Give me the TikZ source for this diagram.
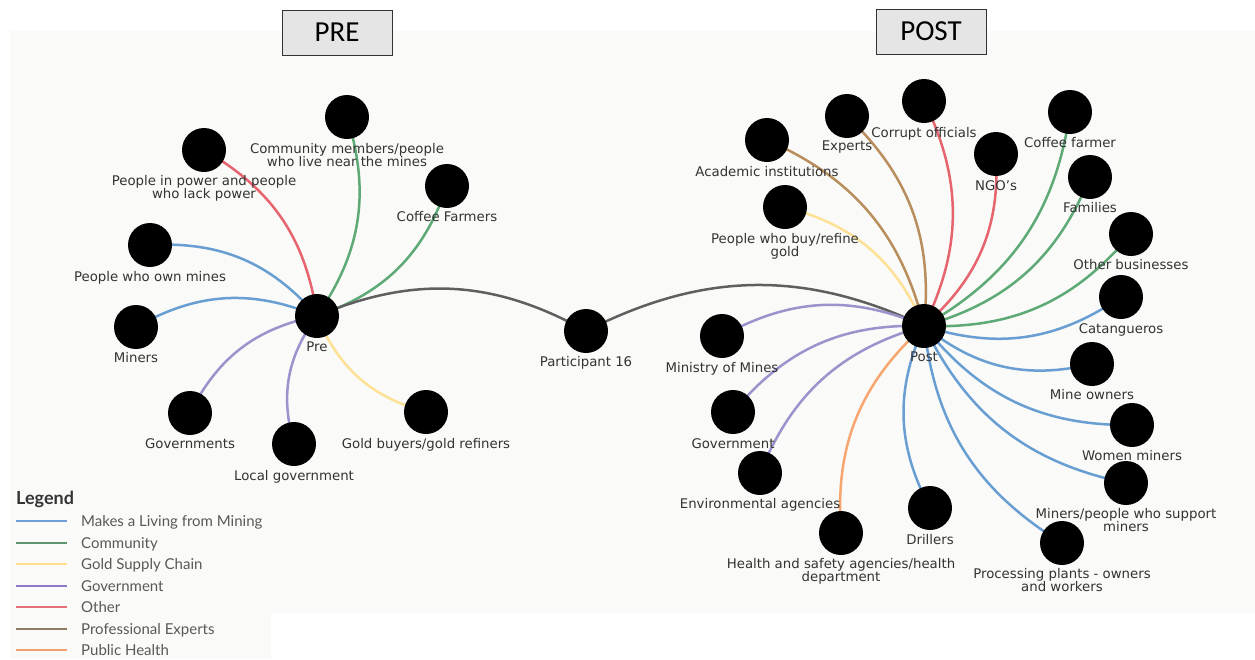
\documentclass[tikz,border=0pt]{standalone}
\usepackage{fontspec}
\setmainfont{DejaVu Sans}
\newfontfamily\titlefont{Carlito}
\newfontfamily\legfont{Lato}
\definecolor{panel}{HTML}{FAFAF8}
\definecolor{txt}{HTML}{333333}
\definecolor{cblue}{RGB}{104,158,210}
\definecolor{cgreen}{RGB}{94,170,118}
\definecolor{cyellow}{RGB}{253,226,150}
\definecolor{cpurple}{RGB}{158,146,204}
\definecolor{cred}{RGB}{230,100,110}
\definecolor{cbrown}{RGB}{184,142,92}
\definecolor{corange}{RGB}{246,166,110}
\definecolor{cgray}{RGB}{95,95,95}
\definecolor{lblue}{HTML}{6F9FD8}
\definecolor{lgreen}{HTML}{5E9470}
\definecolor{lyellow}{HTML}{FDDC8C}
\definecolor{lpurple}{HTML}{9278C8}
\definecolor{lred}{HTML}{E5707C}
\definecolor{lbrown}{HTML}{8E7B62}
\definecolor{lorange}{HTML}{F3A06F}
\pgfdeclarelayer{edgelayer}
\pgfsetlayers{edgelayer,main}
\tikzset{
  dot/.style={circle,fill=black,draw=none,inner sep=0pt,minimum size=44pt},
  lbl/.style={anchor=north,inner sep=0pt,text=txt,align=center,font=\fontsize{13.3}{13.3}\selectfont},
  link/.style={line width=2.5pt,bend right=26},
  titlebox/.style={draw=black!80,line width=1pt,fill=black!10,minimum width=110pt,minimum height=45pt,inner sep=0pt,font=\titlefont\fontsize{29}{30}\selectfont},
  legline/.style={line width=2pt},
  legtext/.style={anchor=base west,inner sep=0pt,text=black!65,font=\legfont\fontsize{15}{16}\selectfont}
}
\begin{document}
\begin{tikzpicture}[x=1pt,y=-1pt]
\useasboundingbox (0,0) rectangle (1255,659);
\begin{pgfonlayer}{edgelayer}
\fill[panel] (10,31) rectangle (1255,613);
\fill[panel] (10,613) rectangle (271,659);
\end{pgfonlayer}

% titles
\node[titlebox] (pretitle) at (337,32.5) {PRE};
\node[titlebox] (posttitle) at (931,31.5) {POST};

% PRE cluster
\node[dot] (pre) at (317,316) {};
\node[lbl] (prel) at (317,342) {Pre};
\node[dot] (pip) at (204,150) {};
\node[lbl] (pipl) at (204,175) {People in power and people\\who lack power};
\node[dot] (comm) at (347,117) {};
\node[lbl] (comml) at (347,143) {Community members/people\\who live near the mines};
\node[dot] (coffee) at (447,186) {};
\node[lbl] (coffeel) at (447,211) {Coffee Farmers};
\node[dot] (own) at (150,245) {};
\node[lbl] (ownl) at (150,271) {People who own mines};
\node[dot] (miners) at (136,327) {};
\node[lbl] (minersl) at (136,352) {Miners};
\node[dot] (govs) at (190,413) {};
\node[lbl] (govsl) at (190,438) {Governments};
\node[dot] (localgov) at (294,444) {};
\node[lbl] (localgovl) at (294,470) {Local government};
\node[dot] (goldb) at (426,412) {};
\node[lbl] (goldbl) at (426,438) {Gold buyers/gold refiners};

% middle
\node[dot] (p16) at (586,331) {};
\node[lbl] (p16l) at (586,356) {Participant 16};

% POST cluster
\node[dot] (post) at (924,326) {};
\node[lbl] (postl) at (924,352) {Post};
\node[dot] (acad) at (767,140) {};
\node[lbl] (acadl) at (767,166) {Academic institutions};
\node[dot] (experts) at (847,116) {};
\node[lbl] (expertsl) at (847,141) {Experts};
\node[dot] (corrupt) at (924,101) {};
\node[lbl] (corruptl) at (924,127) {Corrupt officials};
\node[dot] (ngo) at (996,154) {};
\node[lbl] (ngol) at (996,180) {NGO's};
\node[dot] (cofff) at (1070,112) {};
\node[lbl] (cofffl) at (1070,137) {Coffee farmer};
\node[dot] (fam) at (1090,177) {};
\node[lbl] (faml) at (1090,202) {Families};
\node[dot] (other) at (1131,234) {};
\node[lbl] (otherl) at (1131,259) {Other businesses};
\node[dot] (catang) at (1121,297) {};
\node[lbl] (catangl) at (1121,323) {Catangueros};
\node[dot] (mineown) at (1092,364) {};
\node[lbl] (mineownl) at (1092,389) {Mine owners};
\node[dot] (women) at (1132,425) {};
\node[lbl] (womenl) at (1132,450) {Women miners};
\node[dot] (mps) at (1126,483) {};
\node[lbl] (mpsl) at (1126,508) {Miners/people who support\\miners};
\node[dot] (proc) at (1062,543) {};
\node[lbl] (procl) at (1062,568) {Processing plants - owners\\and workers};
\node[dot] (drill) at (930,508) {};
\node[lbl] (drilll) at (930,534) {Drillers};
\node[dot] (health) at (841,533) {};
\node[lbl] (healthl) at (841,558) {Health and safety agencies/health\\department};
\node[dot] (env) at (760,473) {};
\node[lbl] (envl) at (760,498) {Environmental agencies};
\node[dot] (gov) at (733,412) {};
\node[lbl] (govl) at (733,438) {Government};
\node[dot] (mom) at (722,336) {};
\node[lbl] (moml) at (722,362) {Ministry of Mines};
\node[dot] (buy) at (785,207) {};
\node[lbl] (buyl) at (785,233) {People who buy/refine\\gold};

% edges
\begin{pgfonlayer}{edgelayer}
\draw[link,cred] (pre.center) to (pip.center);
\draw[link,cgreen] (pre.center) to (comm.center);
\draw[link,cgreen] (pre.center) to (coffee.center);
\draw[link,cblue] (pre.center) to (own.center);
\draw[link,cblue] (pre.center) to (miners.center);
\draw[link,cpurple] (pre.center) to (govs.center);
\draw[link,cpurple] (pre.center) to (localgov.center);
\draw[link,cyellow] (pre.center) to (goldb.center);
\draw[link,cgray] (p16.center) to (pre.center);
\draw[link,cgray] (post.center) to (p16.center);
\draw[link,cbrown] (post.center) to (acad.center);
\draw[link,cbrown] (post.center) to (experts.center);
\draw[link,cred] (post.center) to (corrupt.center);
\draw[link,cred] (post.center) to (ngo.center);
\draw[link,cgreen] (post.center) to (cofff.center);
\draw[link,cgreen] (post.center) to (fam.center);
\draw[link,cgreen] (post.center) to (other.center);
\draw[link,cblue] (post.center) to (catang.center);
\draw[link,cblue] (post.center) to (mineown.center);
\draw[link,cblue] (post.center) to (women.center);
\draw[link,cblue] (post.center) to (mps.center);
\draw[link,cblue] (post.center) to (proc.center);
\draw[link,cblue] (post.center) to (drill.center);
\draw[link,corange] (post.center) to (health.center);
\draw[link,cpurple] (post.center) to (env.center);
\draw[link,cpurple] (post.center) to (gov.center);
\draw[link,cpurple] (post.center) to (mom.center);
\draw[link,cyellow] (post.center) to (buy.center);
\end{pgfonlayer}

% legend
\node[anchor=base west,inner sep=0pt,text=black!80,font=\legfont\bfseries\fontsize{18}{19}\selectfont] (legtitle) at (16,504) {Legend};
\coordinate (l1a) at (16,521); \coordinate (l1b) at (67,521);
\coordinate (l2a) at (16,543); \coordinate (l2b) at (67,543);
\coordinate (l3a) at (16,564); \coordinate (l3b) at (67,564);
\coordinate (l4a) at (16,586); \coordinate (l4b) at (67,586);
\coordinate (l5a) at (16,607); \coordinate (l5b) at (67,607);
\coordinate (l6a) at (16,629); \coordinate (l6b) at (67,629);
\coordinate (l7a) at (16,650); \coordinate (l7b) at (67,650);
\draw[legline,lblue] (l1a) -- (l1b);
\draw[legline,lgreen] (l2a) -- (l2b);
\draw[legline,lyellow] (l3a) -- (l3b);
\draw[legline,lpurple] (l4a) -- (l4b);
\draw[legline,lred] (l5a) -- (l5b);
\draw[legline,lbrown] (l6a) -- (l6b);
\draw[legline,lorange] (l7a) -- (l7b);
\node[legtext] (t1) at (81,526) {Makes a Living from Mining};
\node[legtext] (t2) at (81,548) {Community};
\node[legtext] (t3) at (81,569) {Gold Supply Chain};
\node[legtext] (t4) at (81,591) {Government};
\node[legtext] (t5) at (81,612) {Other};
\node[legtext] (t6) at (81,634) {Professional Experts};
\node[legtext] (t7) at (81,655) {Public Health};
\end{tikzpicture}
\end{document}
